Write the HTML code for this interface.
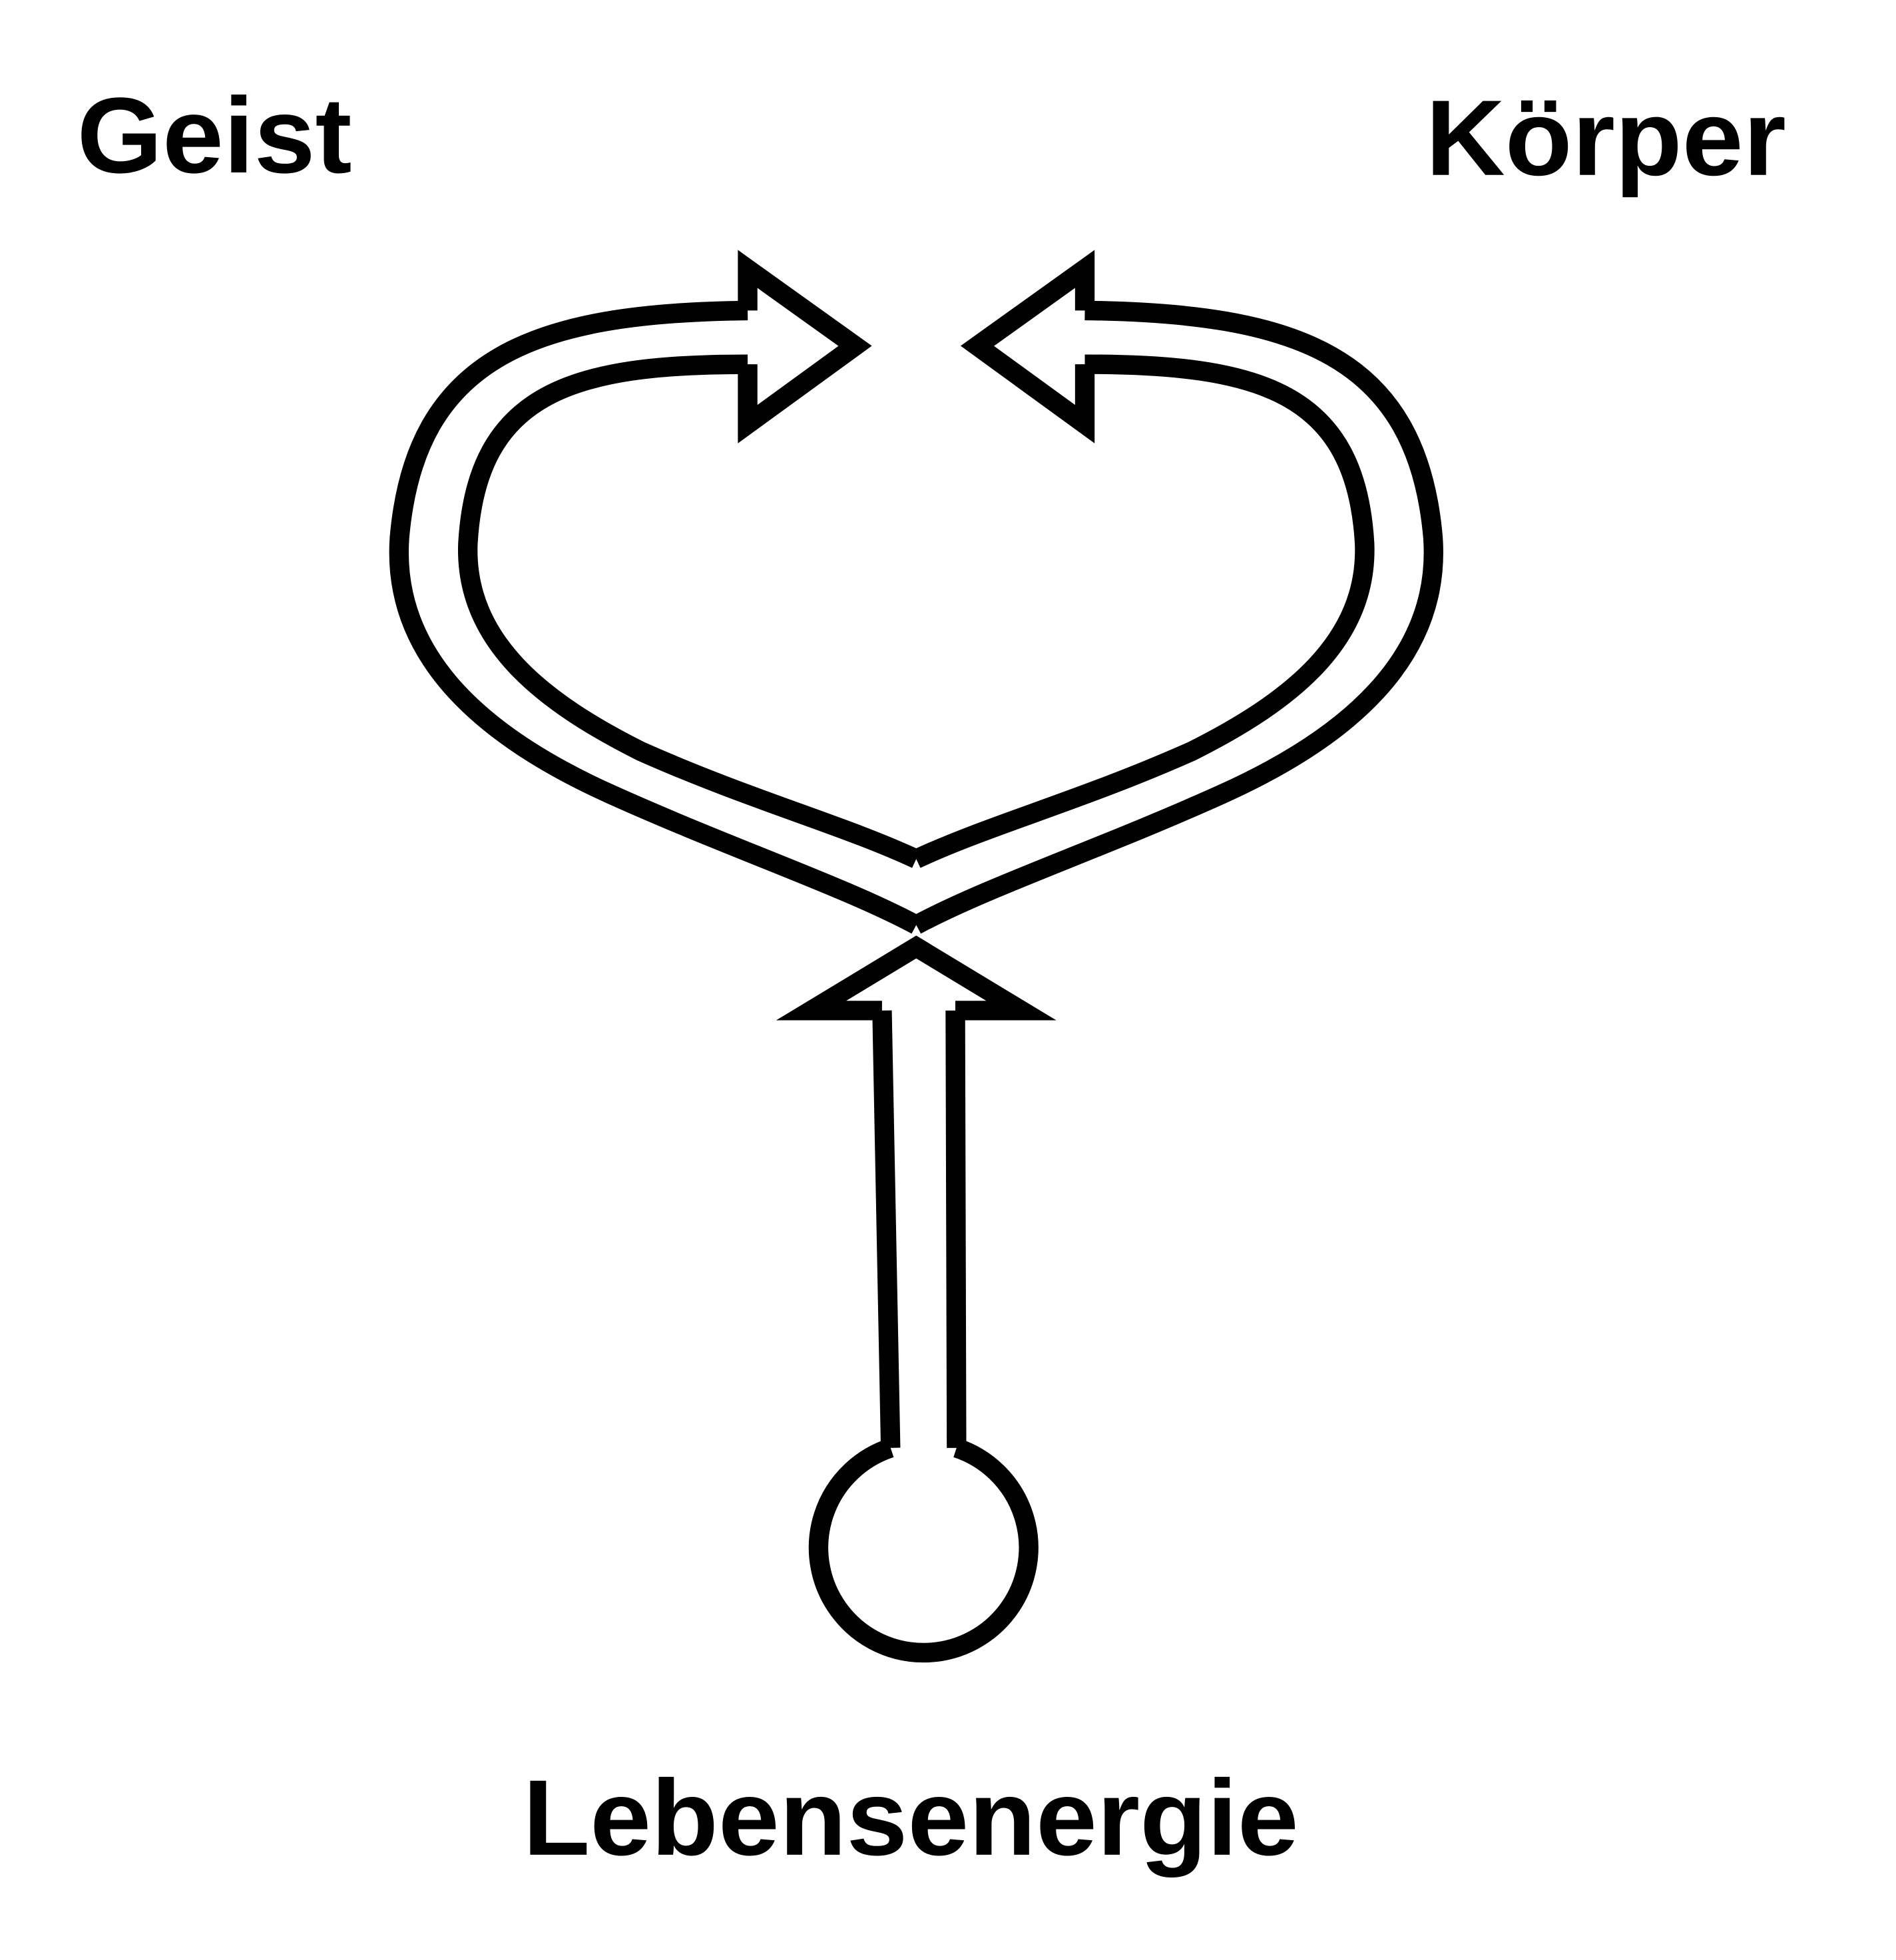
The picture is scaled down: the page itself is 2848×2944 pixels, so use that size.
<!DOCTYPE html>
<html><head><meta charset="utf-8"><style>html,body{margin:0;padding:0;background:#fff}svg{display:block}</style></head>
<body>
<svg width="2848" height="2944" viewBox="0 0 1552 1604" xmlns="http://www.w3.org/2000/svg">
<rect width="1552" height="1604" fill="#fff"/>
<g font-family="Liberation Sans, Arial, sans-serif" font-weight="bold" font-size="88" fill="#000">
<text x="63" y="141" textLength="225" lengthAdjust="spacingAndGlyphs">Geist</text>
<text x="1167" y="143" textLength="295" lengthAdjust="spacingAndGlyphs">Körper</text>
<text x="428" y="1518" textLength="635" lengthAdjust="spacingAndGlyphs">Lebensenergie</text>
</g>
<g fill="none" stroke="#000" stroke-width="16" stroke-linejoin="miter" stroke-linecap="butt">
<g id="L">
<path d="M612,254 C440,256 340,290 327,440 C320,540 400,605 500,650 C600,695 690,725 750,757"/>
<path d="M612,298 C470,298 390,320 383,445 C380,525 445,575 525,615 C615,655 690,675 750,703"/>
<path d="M612,254 L612,220 L700,283 L612,347 L612,298"/>
</g>
<use href="#L" transform="translate(1500,0) scale(-1,1)"/>
<path d="M722,827 L664,827 L750,775 L836,827 L782,827"/>
<path d="M722,827 L729,1185"/>
<path d="M782,827 L783,1185"/>
<path d="M729,1185 A86,86 0 1 0 783,1185"/>
</g>
</svg>
</body></html>
